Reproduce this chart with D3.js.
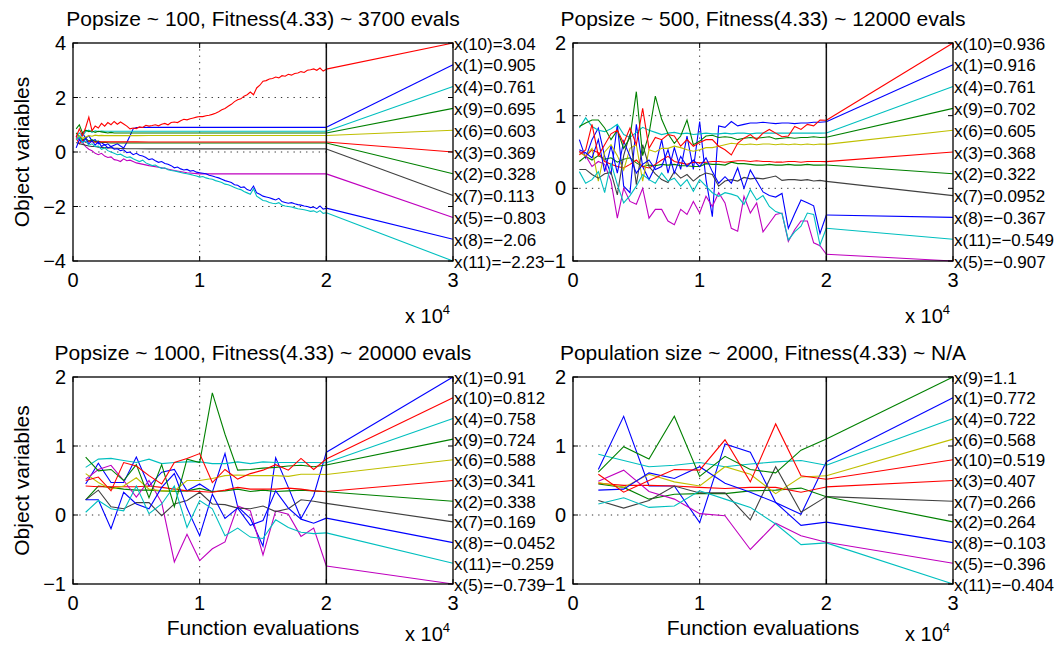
<!DOCTYPE html>
<html>
<head>
<meta charset="utf-8">
<script src="https://cdn.jsdelivr.net/npm/d3@7"></script>
<style>
  body { margin: 0; background: #fff; }
  svg { display: block; }
  text { font-family: "Liberation Sans", Arial, Helvetica, sans-serif; fill: #000; }
</style>
</head>
<body>
<svg width="1061" height="647"></svg>
<script>
// ---- data (object variables vs. function evaluations) ----

// panel 1: popsize 100
const p1EvalsFine = [250,500,750,1000,1250,1500,1750,2000,2250,2500,
  2750,3000,3250,3500,3750,4000,4250,4500,4750,5000,
  5250,5500,5750,6000,6250,6500,6750,7000,7250,7500,
  7750,8000,8250,8500,8750,9000,9250,9500,9750,10000,
  10250,10500,10750,11000,11250,11500,11750,12000,12250,12500,
  12750,13000,13250,13500,13750,14000,14250,14500,14750,15000,
  15250,15500,15750,16000,16250,16500,16750,17000,17250,17500,
  17750,18000,18250,18500,18750,19000,19250,19500,19750,20000];
const p1EvalsEarly = [250,500,750,1000,1250,1500,1750,2000,2250,2500,
  2750,3000,3250,3500,3750,4000,4250,4500,4750,5000,
  6000,7000,8000,9000,10000,20000];

const p1X1 = [0.6,0.45,0.7,0.5,0.6,0.4,0.45,0.3,0.35,0.25, 0.3,0.2,0.25,0.3,0.22,0.15,0.35,0.6,0.85,0.9, 0.905,0.905,0.905,0.905,0.905,0.905];
const p1X2 = [0.7,0.55,0.45,0.5,0.4,0.45,0.38,0.4,0.35,0.36, 0.34,0.33,0.33,0.33,0.33,0.33,0.33,0.33,0.33,0.33, 0.33,0.328,0.328,0.328,0.328,0.328];
const p1X3 = [0.5,0.3,0.45,0.35,0.4,0.38,0.36,0.37,0.37,0.37, 0.37,0.37,0.37,0.37,0.37,0.37,0.37,0.37,0.37,0.37, 0.369,0.369,0.369,0.369,0.369,0.369];
const p1X4 = [0.55,0.7,0.6,0.75,0.8,0.72,0.78,0.75,0.77,0.76, 0.76,0.76,0.76,0.76,0.76,0.76,0.76,0.76,0.76,0.76, 0.761,0.761,0.761,0.761,0.761,0.761];
const p1X5 = [0.55,0.45,0.35,0.2,0.1,0.05,-0.05,-0.1,-0.05,-0.15, -0.2,-0.18,-0.28,-0.3,-0.35,-0.25,-0.32,-0.3,-0.35,-0.4, -0.5,-0.58,-0.68,-0.76,-0.803,-0.803];
const p1X6 = [0.45,0.6,0.5,0.55,0.6,0.58,0.62,0.6,0.61,0.6, 0.6,0.6,0.6,0.6,0.6,0.6,0.6,0.6,0.6,0.6, 0.603,0.603,0.603,0.603,0.603,0.603];
const p1X7 = [0.35,0.3,0.28,0.25,0.22,0.2,0.2,0.18,0.17,0.16, 0.15,0.15,0.14,0.14,0.13,0.13,0.12,0.12,0.12,0.12, 0.115,0.113,0.113,0.113,0.113,0.113];
const p1X9 = [0.85,1.0,0.7,0.8,0.75,0.78,0.72,0.76,0.74,0.72, 0.7,0.72,0.7,0.7,0.7,0.7,0.7,0.7,0.7,0.7, 0.695,0.695,0.695,0.695,0.695,0.695];
const p1X10 = [0.55,0.85,0.6,0.9,1.28,0.78,0.95,0.88,1.05,0.95, 1.08,1.0,1.12,1.02,1.1,1.03,0.95,0.85,0.88,0.86,
  0.92,0.9,0.98,0.95,0.97,1.0,0.96,1.02,1.05,1.0, 1.08,1.1,1.08,1.15,1.2,1.18,1.22,1.25,1.28,1.3,
  1.3,1.33,1.35,1.38,1.42,1.48,1.55,1.6,1.68,1.75, 1.85,1.92,1.95,2.05,2.1,2.2,2.1,2.35,2.45,2.6,
  2.62,2.68,2.7,2.75,2.72,2.8,2.78,2.85,2.82,2.88, 2.9,2.95,2.92,3.0,3.02,3.05,3.0,3.08,2.97,3.04];
const p1X8 = [0.15,0.45,0.35,0.5,0.3,0.42,0.25,0.38,0.2,0.28, 0.15,0.2,0.1,0.12,0.05,0.08,-0.02,0.0,-0.1,-0.05,
  -0.12,-0.15,-0.2,-0.28,-0.25,-0.32,-0.38,-0.35,-0.42,-0.45, -0.5,-0.58,-0.55,-0.62,-0.66,-0.64,-0.7,-0.68,-0.74,-0.76,
  -0.78,-0.8,-0.85,-0.88,-0.92,-0.95,-1.0,-1.05,-1.08,-1.12, -1.2,-1.22,-1.3,-1.28,-1.38,-1.42,-1.25,-1.5,-1.55,-1.62,
  -1.65,-1.68,-1.72,-1.76,-1.7,-1.82,-1.85,-1.88,-1.86,-1.9, -1.93,-1.95,-1.98,-2.0,-2.04,-2.02,-2.08,-1.98,-2.1,-2.06];
const p1X11 = [0.45,0.55,0.35,0.4,0.25,0.3,0.2,0.22,0.1,0.15, 0.05,0.0,-0.05,-0.1,-0.08,-0.15,-0.2,-0.18,-0.25,-0.3,
  -0.35,-0.3,-0.4,-0.45,-0.5,-0.48,-0.55,-0.6,-0.58,-0.65, -0.68,-0.7,-0.72,-0.75,-0.78,-0.8,-0.82,-0.85,-0.88,-0.92,
  -0.9,-0.95,-0.98,-1.0,-1.05,-1.08,-1.12,-1.18,-1.2,-1.25, -1.3,-1.35,-1.38,-1.45,-1.5,-1.55,-1.35,-1.62,-1.7,-1.78,
  -1.8,-1.85,-1.88,-1.9,-1.86,-1.95,-1.98,-2.0,-2.02,-2.05, -2.08,-2.1,-2.12,-2.15,-2.18,-2.16,-2.22,-2.15,-2.25,-2.23];

// panel 2: popsize 500
const p2Evals = [500,1000,1500,2000,2500,3000,3500,4000,4500,5000,
  5500,6000,6500,7000,7500,8000,8500,9000,9500,10000,
  10500,11000,11500,12000,12500,13000,13500,14000,14500,15000,
  15500,16000,16500,17000,17500,18000,18500,19000,19500,20000];
const p2X1 = [0.67,0.42,0.67,0.83,0.44,0.19,0.88,0.03,-0.06,0.88, 0.30,0.12,0.30,0.67,0.21,0.56,0.26,0.72,0.26,0.92, 0.12,-0.39,0.86,0.84,0.92,0.86,0.88,0.90,0.90,0.91, 0.90,0.89,0.90,0.90,0.89,0.90,0.90,0.91,0.91,0.916];
const p2X2 = [0.37,0.44,0.39,0.45,0.40,0.42,0.36,0.40,0.42,0.35, 0.30,0.32,0.31,0.33,0.32,0.33,0.31,0.31,0.30,0.30, 0.34,0.33,0.33,0.32,0.36,0.34,0.34,0.33,0.32,0.32, 0.33,0.32,0.32,0.33,0.32,0.32,0.33,0.32,0.32,0.322];
const p2X3 = [0.51,0.44,0.53,0.49,0.37,0.33,0.30,0.28,0.33,0.39, 0.30,0.28,0.33,0.39,0.44,0.37,0.35,0.33,0.36,0.35, 0.36,0.37,0.37,0.36,0.37,0.38,0.38,0.37,0.38,0.37, 0.37,0.36,0.36,0.37,0.37,0.36,0.37,0.37,0.37,0.368];
const p2X4 = [0.83,0.97,0.85,0.80,0.78,0.82,0.88,0.74,0.70,0.77, 0.84,0.80,0.77,0.74,0.76,0.77,0.75,0.76,0.74,0.75, 0.76,0.75,0.75,0.76,0.75,0.76,0.76,0.75,0.76,0.76, 0.76,0.76,0.76,0.76,0.76,0.76,0.76,0.76,0.76,0.761];
const p2X5 = [0.50,0.45,0.30,0.37,0.33,0.10,-0.41,0.00,-0.18,-0.22, 0.00,-0.41,-0.29,-0.29,-0.45,-0.50,-0.29,-0.36,-0.18,-0.34, -0.11,-0.25,-0.06,-0.20,-0.55,-0.59,-0.11,-0.34,-0.20,-0.60, -0.48,-0.36,-0.34,-0.73,-0.57,-0.45,-0.45,-0.75,-0.79,-0.907];
const p2X6 = [0.49,0.45,0.55,0.10,0.50,0.60,0.45,0.25,0.55,0.60, 0.10,0.53,0.50,0.55,0.55,0.58,0.56,0.53,0.51,0.53, 0.56,0.56,0.58,0.60,0.62,0.61,0.60,0.61,0.60,0.61, 0.61,0.60,0.61,0.60,0.61,0.60,0.61,0.60,0.61,0.605];
const p2X7 = [0.26,0.26,0.19,0.14,0.20,0.22,-0.09,0.45,0.75,0.05, 0.60,0.30,0.20,0.12,0.08,0.23,0.14,0.19,0.10,0.17, 0.21,0.19,0.03,0.10,0.12,0.10,0.15,0.13,0.14,0.13, 0.15,0.17,0.11,0.12,0.12,0.11,0.12,0.10,0.11,0.0952];
const p2X8 = [0.53,0.49,0.42,0.67,0.23,0.58,0.21,0.65,0.44,0.21, 0.33,0.39,0.26,0.30,0.53,0.21,0.44,0.30,0.39,0.30, 0.42,0.23,0.07,0.16,0.07,0.28,0.00,0.25,0.10,-0.05, -0.10,-0.12,-0.07,-0.55,-0.35,-0.16,-0.20,-0.24,-0.62,-0.367];
const p2X9 = [0.85,0.90,0.94,0.94,0.83,0.67,0.80,0.55,0.70,1.33, 0.45,0.75,1.27,0.95,0.75,0.62,0.72,0.94,0.60,0.65, 0.72,0.73,0.70,0.71,0.70,0.67,0.69,0.70,0.69,0.70, 0.71,0.68,0.69,0.70,0.69,0.70,0.70,0.71,0.70,0.702];
const p2X10 = [0.46,0.53,0.88,0.45,0.60,0.75,0.80,0.62,0.83,0.60, 1.10,0.55,0.70,0.67,0.74,0.72,0.58,0.67,0.58,0.63, 0.67,0.67,0.58,0.53,0.46,0.62,0.69,0.74,0.67,0.76, 0.81,0.76,0.71,0.72,0.85,0.81,0.88,0.86,0.94,0.936];
const p2X11 = [0.23,0.07,0.12,0.23,-0.06,0.35,0.05,-0.20,-0.10,0.03, 0.19,0.12,0.07,0.21,0.10,0.14,0.03,0.12,-0.04,0.12, 0.03,-0.06,-0.11,-0.06,-0.08,-0.11,-0.22,-0.02,-0.16,-0.10, -0.25,-0.32,-0.35,-0.71,-0.60,-0.52,-0.34,-0.36,-0.78,-0.549];

// panel 3: popsize 1000
const p3Evals = [1000,2000,3000,4000,5000,6000,7000,8000,9000,10000,
  11000,12000,13000,14000,15000,16000,17000,18000,19000,20000];
const p3X1 = [0.45,0.75,0.47,0.47,0.84,0.42,0.62,0.66,0.35,0.45, 0.33,0.89,0.12,-0.05,-0.45,0.83,0.40,-0.05,0.28,0.91];
const p3X2 = [0.22,0.42,0.40,0.375,0.36,0.36,0.35,0.34,0.35,0.385, 0.34,0.35,0.375,0.34,0.36,0.34,0.35,0.36,0.35,0.338];
const p3X3 = [0.42,0.41,0.41,0.41,0.41,0.42,0.40,0.375,0.35,0.34, 0.33,0.36,0.40,0.375,0.375,0.375,0.39,0.375,0.35,0.341];
const p3X4 = [0.69,0.81,0.82,0.79,0.76,0.81,0.745,0.76,0.77,0.77, 0.745,0.745,0.77,0.745,0.77,0.76,0.76,0.76,0.76,0.758];
const p3X5 = [0.52,0.66,0.72,0.50,0.26,0.50,0.18,-0.68,-0.28,-0.66, -0.49,-0.39,0.13,0.06,-0.58,0.06,0.01,-0.31,-0.19,-0.739];
const p3X6 = [0.60,0.47,0.375,0.42,0.54,0.375,0.35,0.35,0.50,0.50, 0.53,0.57,0.58,0.57,0.57,0.57,0.56,0.59,0.59,0.588];
const p3X7 = [0.22,0.36,0.12,0.09,0.18,0.18,-0.01,0.16,0.21,0.33, 0.16,0.15,0.10,0.09,0.13,0.05,0.09,0.22,0.20,0.169];
const p3X8 = [0.22,0.22,-0.20,0.33,0.16,0.09,0.40,0.60,0.10,-0.30, 0.30,-0.05,0.10,-0.15,-0.08,0.35,0.10,-0.06,-0.12,-0.0452];
const p3X9 = [0.84,0.64,0.66,0.50,0.73,0.25,0.73,0.12,0.81,0.76, 1.77,1.17,0.65,0.66,0.68,0.69,0.71,0.72,0.70,0.724];
const p3X10 = [0.50,0.55,0.35,0.76,0.71,0.57,0.45,0.76,0.82,0.89, 0.47,0.66,0.52,0.60,0.65,0.73,0.65,0.82,0.66,0.812];
const p3X11 = [0.04,0.21,0.09,0.06,0.42,0.02,0.16,0.42,-0.18,0.21, 0.09,-0.30,-0.19,-0.32,-0.34,-0.07,-0.18,-0.25,-0.27,-0.259];

// panel 4: population size 2000
const p4Evals = [2000,4000,6000,8000,10000,12000,14000,16000,18000,20000];
const p4X1 = [0.66,1.43,0.42,0.42,-0.11,1.03,0.91,0.18,0.01,0.772];
const p4X2 = [0.45,0.40,0.23,0.30,0.31,0.31,0.35,0.36,0.39,0.264];
const p4X3 = [0.46,0.43,0.43,0.42,0.40,0.385,0.40,0.40,0.33,0.407];
const p4X4 = [0.88,0.79,0.70,0.72,0.76,0.70,0.74,0.77,0.79,0.722];
const p4X5 = [0.49,0.65,0.34,0.23,0.02,-0.01,-0.50,-0.12,-0.30,-0.396];
const p4X6 = [0.47,0.40,0.59,0.48,0.42,0.70,0.59,0.31,0.55,0.568];
const p4X7 = [0.21,0.10,0.21,0.42,0.32,0.32,-0.07,0.70,0.04,0.266];
const p4X8 = [0.36,0.375,0.61,0.53,0.70,0.46,0.33,0.18,-0.15,-0.103];
const p4X9 = [0.62,0.99,0.81,1.43,0.56,0.85,0.66,0.61,0.94,1.10];
const p4X10 = [0.59,0.33,0.50,0.66,0.65,1.09,0.48,1.32,0.57,0.519];
const p4X11 = [0.16,0.25,0.11,0.13,0.35,0.23,0.11,-0.13,-0.43,-0.404];

const xTicks = [0, 10000, 20000, 30000];
const endEval = 20000;   // last evaluation; the right part only fans out to the labels
const maxEval = 30000;

// ---- panel layout ----
const panels = [
  {
    title: "Popsize ~ 100, Fitness(4.33) ~ 3700 evals",
    box: [73, 43, 453, 261], yDomain: [-4, 4], yTicks: [-4, -2, 0, 2, 4],
    yLabel: true, xLabel: false,
    series: [
      [1, p1EvalsEarly, p1X1], [2, p1EvalsEarly, p1X2], [3, p1EvalsEarly, p1X3],
      [4, p1EvalsEarly, p1X4], [5, p1EvalsEarly, p1X5], [6, p1EvalsEarly, p1X6],
      [7, p1EvalsEarly, p1X7], [8, p1EvalsFine, p1X8], [9, p1EvalsEarly, p1X9],
      [10, p1EvalsFine, p1X10], [11, p1EvalsFine, p1X11]
    ]
  },
  {
    title: "Popsize ~ 500, Fitness(4.33) ~ 12000 evals",
    box: [573, 43, 953, 261], yDomain: [-1, 2], yTicks: [-1, 0, 1, 2],
    yLabel: false, xLabel: false,
    series: [p2X1, p2X2, p2X3, p2X4, p2X5, p2X6, p2X7, p2X8, p2X9, p2X10, p2X11]
      .map((v, i) => [i + 1, p2Evals, v])
  },
  {
    title: "Popsize ~ 1000, Fitness(4.33) ~ 20000 evals",
    box: [73, 377, 453, 584], yDomain: [-1, 2], yTicks: [-1, 0, 1, 2],
    yLabel: true, xLabel: true,
    series: [p3X1, p3X2, p3X3, p3X4, p3X5, p3X6, p3X7, p3X8, p3X9, p3X10, p3X11]
      .map((v, i) => [i + 1, p3Evals, v])
  },
  {
    title: "Population size ~ 2000, Fitness(4.33) ~ N/A",
    box: [573, 377, 953, 584], yDomain: [-1, 2], yTicks: [-1, 0, 1, 2],
    yLabel: false, xLabel: true,
    series: [p4X1, p4X2, p4X3, p4X4, p4X5, p4X6, p4X7, p4X8, p4X9, p4X10, p4X11]
      .map((v, i) => [i + 1, p4Evals, v])
  }
];

// matlab default line colour order
const palette = ["#0000ff", "#008000", "#ff0000", "#00bfbf", "#bf00bf", "#bfbf00", "#404040"];
const colorOf = id => palette[(id - 1) % palette.length];
const fmtVal = d3.format(".3~g");
const fmtTick = d3.format("d");

const svg = d3.select("svg");

panels.forEach(p => {
  const [x0, y0, x1, y1] = p.box;
  const x = d3.scaleLinear().domain([0, maxEval]).range([x0, x1]);
  const y = d3.scaleLinear().domain(p.yDomain).range([y1, y0]);
  const g = svg.append("g");

  // dotted grid (left part only)
  g.selectAll(".hgrid")
    .data(p.yTicks.filter(t => t > p.yDomain[0] && t < p.yDomain[1]))
    .join("line")
    .attr("x1", x(0)).attr("x2", x(endEval))
    .attr("y1", d => y(d)).attr("y2", d => y(d))
    .attr("stroke", "#333").attr("stroke-width", 1)
    .attr("stroke-dasharray", "1.3,5");
  g.append("line")
    .attr("x1", x(10000)).attr("x2", x(10000))
    .attr("y1", y0).attr("y2", y1)
    .attr("stroke", "#333").attr("stroke-width", 1)
    .attr("stroke-dasharray", "1.3,5");

  const line = d3.line().x(d => x(d[0])).y(d => y(d[1]));

  // traces
  p.series.forEach(([id, evals, vals]) => {
    g.append("path")
      .datum(d3.zip(evals, vals))
      .attr("d", line)
      .attr("fill", "none")
      .attr("stroke", colorOf(id))
      .attr("stroke-width", 1.1);
  });

  // fan-out to the sorted labels on the right
  const ranked = p.series.slice().sort((a, b) => b[2][b[2].length - 1] - a[2][a[2].length - 1]);
  const slot = d3.scaleLinear().domain([0, ranked.length - 1]).range([p.yDomain[1], p.yDomain[0]]);
  ranked.forEach(([id, evals, vals], i) => {
    const last = vals[vals.length - 1];
    g.append("path")
      .datum([[endEval, last], [maxEval, slot(i)]])
      .attr("d", line)
      .attr("fill", "none")
      .attr("stroke", colorOf(id))
      .attr("stroke-width", 1.1);
    g.append("text")
      .attr("x", x(maxEval) + 1)
      .attr("y", y(slot(i)) + 1)
      .attr("dominant-baseline", "central")
      .attr("font-size", "17px")
      .text(`x(${id})=${fmtVal(last)}`);
  });

  // vertical marker at the last evaluation
  g.append("line")
    .attr("x1", x(endEval)).attr("x2", x(endEval))
    .attr("y1", y0).attr("y2", y1)
    .attr("stroke", "#111").attr("stroke-width", 1.5);

  // box
  g.append("rect")
    .attr("x", x0).attr("y", y0)
    .attr("width", x1 - x0).attr("height", y1 - y0)
    .attr("fill", "none").attr("stroke", "#000").attr("stroke-width", 1.3);

  // inward ticks
  p.yTicks.forEach(t => {
    g.append("line").attr("x1", x0).attr("x2", x0 + 5).attr("y1", y(t)).attr("y2", y(t)).attr("stroke", "#000");
    g.append("line").attr("x1", x1).attr("x2", x1 - 5).attr("y1", y(t)).attr("y2", y(t)).attr("stroke", "#000");
  });
  xTicks.forEach(t => {
    g.append("line").attr("x1", x(t)).attr("x2", x(t)).attr("y1", y1).attr("y2", y1 - 5).attr("stroke", "#000");
    g.append("line").attr("x1", x(t)).attr("x2", x(t)).attr("y1", y0).attr("y2", y0 + 5).attr("stroke", "#000");
  });

  // tick labels
  g.selectAll(".ylab").data(p.yTicks).join("text")
    .attr("x", x0 - 7).attr("y", d => y(d))
    .attr("text-anchor", "end").attr("dominant-baseline", "central")
    .attr("font-size", "20px")
    .text(d => fmtTick(d));
  g.selectAll(".xlab").data(xTicks).join("text")
    .attr("x", d => x(d)).attr("y", y1 + 26)
    .attr("text-anchor", "middle")
    .attr("font-size", "20px")
    .text(d => fmtTick(d / 10000));

  // x 10^4 multiplier (kept inside the page at the bottom row)
  const mult = g.append("text")
    .attr("x", x1 - 48).attr("y", Math.min(y1 + 62, 641))
    .attr("font-size", "20px");
  mult.append("tspan").text("x 10");
  mult.append("tspan").attr("dy", -9).attr("font-size", "13px").text("4");

  // title
  g.append("text")
    .attr("x", (x0 + x1) / 2).attr("y", y0 - 17)
    .attr("text-anchor", "middle")
    .attr("font-size", "21px")
    .text(p.title);

  if (p.yLabel) {
    g.append("text")
      .attr("transform", `translate(21,${(y0 + y1) / 2}) rotate(-90)`)
      .attr("text-anchor", "middle").attr("dominant-baseline", "central")
      .attr("font-size", "21px")
      .text("Object variables");
  }
  if (p.xLabel) {
    g.append("text")
      .attr("x", (x0 + x1) / 2).attr("y", y1 + 51)
      .attr("text-anchor", "middle")
      .attr("font-size", "21px")
      .text("Function evaluations");
  }
});
</script>
</body>
</html>
